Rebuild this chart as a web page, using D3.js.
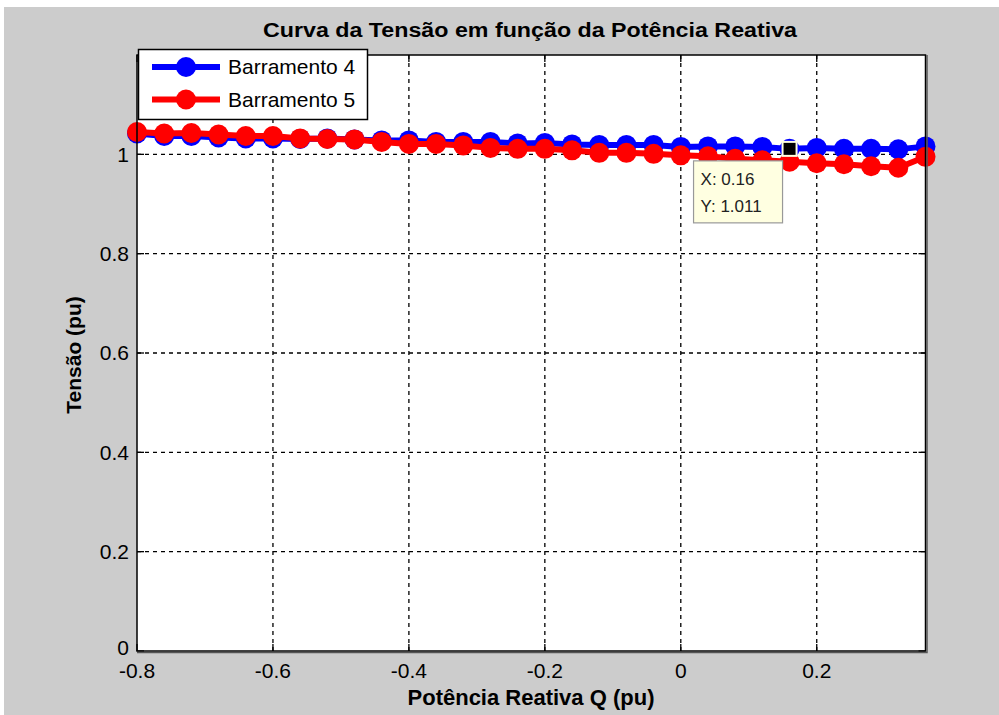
<!DOCTYPE html>
<html><head><meta charset="utf-8">
<script src="https://cdn.jsdelivr.net/npm/d3@7"></script>
<style>html,body{margin:0;padding:0;background:#fff;}svg{display:block;}</style>
</head><body>
<script>
const qValues = [-0.80,-0.76,-0.72,-0.68,-0.64,-0.60,-0.56,-0.52,-0.48,-0.44,-0.40,-0.36,-0.32,-0.28,-0.24,-0.20,-0.16,-0.12,-0.08,-0.04,0.00,0.04,0.08,0.12,0.16,0.20,0.24,0.28,0.32,0.36];
const barra4 = [1.042,1.037,1.037,1.034,1.032,1.032,1.031,1.032,1.030,1.028,1.028,1.025,1.025,1.025,1.022,1.023,1.020,1.019,1.019,1.019,1.015,1.016,1.016,1.015,1.011,1.013,1.011,1.011,1.010,1.016];
const barra5 = [1.045,1.042,1.043,1.040,1.037,1.037,1.032,1.031,1.030,1.025,1.021,1.021,1.018,1.013,1.011,1.011,1.008,1.003,1.003,1.001,0.998,0.996,0.991,0.988,0.985,0.982,0.980,0.976,0.973,0.995];
const seriesNames = ["Barramento 4","Barramento 5"];
const xTicks = [-0.8,-0.6,-0.4,-0.2,0,0.2];
const yTicks = [0,0.2,0.4,0.6,0.8,1];
const tipIndex = 24;

const W=999,H=715;
const font="'Liberation Sans', Arial, sans-serif";
const svg=d3.select("body").append("svg").attr("width",W).attr("height",H);
svg.append("rect").attr("x",4).attr("y",7).attr("width",W-4).attr("height",H-7).attr("fill","#cccccc");

const L=137,R=925.5,T=55,B=651;
const x=d3.scaleLinear().domain([-0.8,0.36]).range([L,R]);
const y=d3.scaleLinear().domain([0,1.2]).range([B,T]);

svg.append("rect").attr("x",L).attr("y",T).attr("width",R-L).attr("height",B-T).attr("fill","#fff");

// grid
const g=svg.append("g");
g.selectAll(".gx").data(xTicks.filter(v=>v>-0.8)).enter().append("line")
 .attr("x1",d=>x(d)).attr("x2",d=>x(d)).attr("y1",T).attr("y2",B)
 .attr("stroke","#000").attr("stroke-width",1.3).attr("stroke-dasharray","4,4");
g.selectAll(".gy").data(yTicks.filter(v=>v>0)).enter().append("line")
 .attr("y1",d=>y(d)).attr("y2",d=>y(d)).attr("x1",L).attr("x2",R)
 .attr("stroke","#000").attr("stroke-width",1.3).attr("stroke-dasharray","4,4");

// ticks
const tl=7;
xTicks.forEach(v=>{
  svg.append("line").attr("x1",x(v)).attr("x2",x(v)).attr("y1",B).attr("y2",B-tl).attr("stroke","#000").attr("stroke-width",1.3);
  svg.append("line").attr("x1",x(v)).attr("x2",x(v)).attr("y1",T).attr("y2",T+tl).attr("stroke","#000").attr("stroke-width",1.3);
});
yTicks.forEach(v=>{
  svg.append("line").attr("y1",y(v)).attr("y2",y(v)).attr("x1",L).attr("x2",L+tl).attr("stroke","#000").attr("stroke-width",1.3);
  svg.append("line").attr("y1",y(v)).attr("y2",y(v)).attr("x1",R).attr("x2",R-tl).attr("stroke","#000").attr("stroke-width",1.3);
});

// tick labels
svg.selectAll(".xl").data(xTicks).enter().append("text")
 .attr("x",d=>x(d)).attr("y",B+27).attr("text-anchor","middle")
 .attr("font-family",font).attr("font-size",21).attr("fill","#000")
 .text(d=>d3.format("")(d).replace("−","-"));
svg.selectAll(".yl").data(yTicks).enter().append("text")
 .attr("x",L-8).attr("y",d=>y(d)-(d===0?3:0)).attr("dy","0.35em").attr("text-anchor","end")
 .attr("font-family",font).attr("font-size",21).attr("fill","#000")
 .text(d=>d3.format("")(d));

// series
const data4=qValues.map((q,i)=>[q,barra4[i]]);
const data5=qValues.map((q,i)=>[q,barra5[i]]);
const line=d3.line().x(d=>x(d[0])).y(d=>y(d[1]));
function drawSeries(data,color){
  svg.append("path").datum(data).attr("d",line).attr("fill","none").attr("stroke",color).attr("stroke-width",6).attr("stroke-linejoin","round");
  svg.selectAll(null).data(data).enter().append("circle")
   .attr("cx",d=>x(d[0])).attr("cy",d=>y(d[1])).attr("r",10).attr("fill",color);
}
drawSeries(data4,"#0000ff");
drawSeries(data5,"#ff0000");

// frame
svg.append("rect").attr("x",L).attr("y",T).attr("width",R-L).attr("height",B-T).attr("fill","none").attr("stroke","#000").attr("stroke-width",1.5);
svg.append("path").attr("d",`M${R+1.5},${T} V${B+1.5} H${L}`).attr("fill","none").attr("stroke","#555").attr("stroke-width",1.5);

// legend
const lg=svg.append("g");
lg.append("rect").attr("x",138.5).attr("y",49.5).attr("width",229).attr("height",70).attr("fill","#fff").attr("stroke","#000").attr("stroke-width",1.5);
[["#0000ff",67],["#ff0000",99.5]].forEach((c,i)=>{
  lg.append("line").attr("x1",152).attr("x2",220).attr("y1",c[1]).attr("y2",c[1]).attr("stroke",c[0]).attr("stroke-width",6);
  lg.append("circle").attr("cx",186).attr("cy",c[1]).attr("r",10).attr("fill",c[0]);
  lg.append("text").attr("x",228).attr("y",c[1]).attr("dy","0.35em").attr("font-family",font).attr("font-size",21).attr("fill","#000").text(seriesNames[i]);
});

// titles
svg.append("text").attr("x",530).attr("y",37).attr("text-anchor","middle").attr("font-family",font).attr("font-weight","bold").attr("font-size",20)
 .attr("textLength",534).attr("lengthAdjust","spacingAndGlyphs").attr("fill","#000").text("Curva da Tensão em função da Potência Reativa");
svg.append("text").attr("x",531).attr("y",705).attr("text-anchor","middle").attr("font-family",font).attr("font-weight","bold").attr("font-size",22).attr("fill","#000").text("Potência Reativa Q (pu)");
svg.append("text").attr("transform","translate(81,355) rotate(-90)").attr("text-anchor","middle").attr("font-family",font).attr("font-weight","bold").attr("font-size",21).attr("fill","#000").text("Tensão (pu)");

// data tip
const tq=qValues[tipIndex], tv=barra4[tipIndex];
const ax=x(tq), ay=y(tv);
const tip=svg.append("g");
tip.append("rect").attr("x",ax-96).attr("y",ay+12).attr("width",89).attr("height",62).attr("fill","#ffffe1").attr("stroke","#999").attr("stroke-width",1.2);
tip.append("text").attr("x",ax-89).attr("y",ay+36).attr("font-family",font).attr("font-size",17).attr("fill","#222").text("X: "+tq);
tip.append("text").attr("x",ax-89).attr("y",ay+63).attr("font-family",font).attr("font-size",17).attr("fill","#222").text("Y: "+tv);
tip.append("rect").attr("x",ax-7).attr("y",ay-7).attr("width",14).attr("height",14).attr("fill","#000").attr("stroke","#ffffe1").attr("stroke-width",2);
</script>
</body></html>
